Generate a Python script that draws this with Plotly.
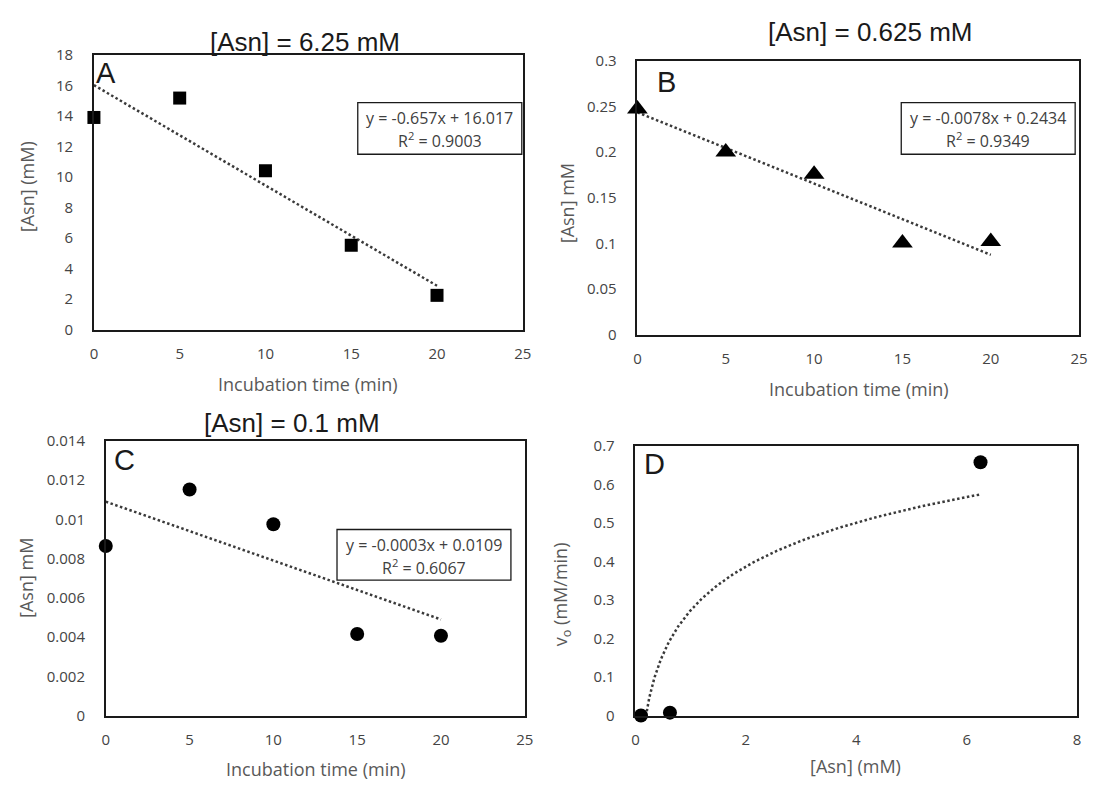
import numpy as np
import plotly.graph_objects as go

W, H = 1098, 788

# ---- data -----------------------------------------------------------------
time_min = [0, 5, 10, 15, 20]

asn_625 = [13.9, 15.17, 10.41, 5.53, 2.25]          # [Asn]0 = 6.25 mM
asn_0625 = [0.247, 0.200, 0.1756, 0.1004, 0.102]    # [Asn]0 = 0.625 mM
asn_01 = [0.00864, 0.01152, 0.00975, 0.00416, 0.00407]  # [Asn]0 = 0.1 mM

# linear trendlines  y = m*x + b
fit_625 = (-0.657, 16.017)
fit_0625 = (-0.0078, 0.2434)
fit_01 = (-0.0003, 0.0109)
r2_625, r2_0625, r2_01 = "0.9003", "0.9349", "0.6067"

# initial velocity vs substrate
asn_conc = [0.1, 0.625, 6.25]
v0 = [0.0003, 0.0078, 0.657]

# tick labels
ticks_x_time = [0, 5, 10, 15, 20, 25]
ticks_y_a = [0, 2, 4, 6, 8, 10, 12, 14, 16, 18]
ticks_y_b = [0, 0.05, 0.1, 0.15, 0.2, 0.25, 0.3]
labels_y_b = ["0", "0.05", "0.1", "0.15", "0.2", "0.25", "0.3"]
ticks_y_c = [0, 0.002, 0.004, 0.006, 0.008, 0.01, 0.012, 0.014]
labels_y_c = ["0", "0.002", "0.004", "0.006", "0.008", "0.01", "0.012", "0.014"]
ticks_x_d = [0, 2, 4, 6, 8]
ticks_y_d = [0, 0.1, 0.2, 0.3, 0.4, 0.5, 0.6, 0.7]
labels_y_d = ["0", "0.1", "0.2", "0.3", "0.4", "0.5", "0.6", "0.7"]

# ---- panel frames in pixels: (left, top, right, bottom) ----------------------
frames = {
    "A": (91, 45, 525, 327),
    "B": (641, 51, 1088, 332),
    "C": (103, 441, 527, 723),
    "D": (639, 446, 1086, 723),
}


def px(x):
    return x / W


def py(y):
    return 1 - y / H


TICK_FONT = dict(family="Open Sans", size=15, color="#444444")
TITLE_FONT = dict(family="Open Sans", size=18, color="#595959")
DOT = dict(color="#3a3a3a", width=2.5, dash="2.5px,2.5px")

fig = go.Figure()

panels = [
    ("A", "x", "y", asn_625, fit_625, "square", 13),
    ("B", "x2", "y2", asn_0625, fit_0625, "triangle-up", 18),
    ("C", "x3", "y3", asn_01, fit_01, "circle", 14),
]
for name, xr, yr, vals, (m, b), sym, size in panels:
    x_line = [time_min[0], time_min[-1]]
    fig.add_trace(go.Scatter(x=x_line, y=[m * x + b for x in x_line], mode="lines",
                             line=DOT, xaxis=xr, yaxis=yr, showlegend=False,
                             hoverinfo="skip"))
    fig.add_trace(go.Scatter(x=time_min, y=vals, mode="markers",
                             marker=dict(symbol=sym, size=size, color="black"),
                             xaxis=xr, yaxis=yr, showlegend=False, cliponaxis=False))

# logarithmic trendline through v0 vs [Asn]
a_log, b_log = np.polyfit(np.log(asn_conc), v0, 1)
s_curve = np.geomspace(asn_conc[0], asn_conc[-1], 200)
fig.add_trace(go.Scatter(x=s_curve, y=a_log * np.log(s_curve) + b_log, mode="lines",
                         line=DOT, xaxis="x4", yaxis="y4", showlegend=False,
                         hoverinfo="skip"))
fig.add_trace(go.Scatter(x=asn_conc, y=v0, mode="markers",
                         marker=dict(symbol="circle", size=14, color="black"),
                         xaxis="x4", yaxis="y4", showlegend=False, cliponaxis=False))


def axis(frame, horizontal, anchor, rng, tickvals, ticktext=None):
    l, t, r, bt = frames[frame]
    dom = [px(l), px(r)] if horizontal else [py(bt), py(t)]
    d = dict(domain=dom, anchor=anchor, range=rng, tickvals=tickvals,
             showgrid=False, zeroline=False, showline=True, mirror=True,
             linecolor="#1a1a1a", linewidth=1.5, ticks="", tickfont=TICK_FONT,
             ticklabelstandoff=10 if horizontal else 16, fixedrange=True)
    if ticktext is not None:
        d["ticktext"] = ticktext
    return d


fig.update_layout(
    width=W, height=H, margin=dict(l=0, r=0, t=0, b=0),
    paper_bgcolor="white", plot_bgcolor="white",
    xaxis=axis("A", True, "y", [0, 25], ticks_x_time),
    yaxis=axis("A", False, "x", [0, 18], ticks_y_a),
    xaxis2=axis("B", True, "y2", [0, 25], ticks_x_time),
    yaxis2=axis("B", False, "x2", [0, 0.3], ticks_y_b, labels_y_b),
    xaxis3=axis("C", True, "y3", [0, 25], ticks_x_time),
    yaxis3=axis("C", False, "x3", [0, 0.014], ticks_y_c, labels_y_c),
    xaxis4=axis("D", True, "y4", [0, 8], ticks_x_d),
    yaxis4=axis("D", False, "x4", [0, 0.7], ticks_y_d, labels_y_d),
)

ann = []


def text(x, y, s, font, angle=0):
    ann.append(dict(x=px(x), y=py(y), xref="paper", yref="paper", text=s,
                    showarrow=False, font=font, textangle=angle,
                    xanchor="center", yanchor="middle"))


HEAD = dict(family="Liberation Sans", size=26, color="#1a1a1a")
LETTER = dict(family="Liberation Sans", size=29, color="#1a1a1a")

# panel headings
text(305, 32, "[Asn] = 6.25 mM", HEAD)
text(876, 22, "[Asn] = 0.625 mM", HEAD)
text(291, 423, "[Asn] = 0.1 mM", HEAD)

# panel letters
text(103, 64, "A", LETTER)
text(670, 73, "B", LETTER)
text(122, 461, "C", LETTER)
text(658, 465, "D", LETTER)

# axis titles
text(308, 383, "Incubation time (min)", TITLE_FONT)
text(865, 388, "Incubation time (min)", TITLE_FONT)
text(316, 778, "Incubation time (min)", TITLE_FONT)
text(862, 775, "[Asn] (mM)", TITLE_FONT)
text(24, 180, "[Asn] (mM)", TITLE_FONT, -90)
text(570, 197, "[Asn] mM", TITLE_FONT, -90)
text(23, 582, "[Asn] mM", TITLE_FONT, -90)
text(565, 598, "v<sub>o</sub> (mM/min)", TITLE_FONT, -90)

# trendline equation boxes
EQ = dict(family="Open Sans", size=16, color="#404040")
boxes = [
    ((358, 94, 524, 147), fit_625, r2_625, ("{:.3f}", "{:.3f}")),
    ((908, 94, 1084, 147), fit_0625, r2_0625, ("{:.4f}", "{:.4f}")),
    ((337, 532, 513, 584), fit_01, r2_01, ("{:.4f}", "{:.4f}")),
]
shapes = []
for (l, t, r, bt), (m, b), r2, (fm, fb) in boxes:
    shapes.append(dict(type="rect", xref="paper", yref="paper",
                       x0=px(l), x1=px(r), y0=py(bt), y1=py(t),
                       line=dict(color="#1a1a1a", width=1.3), fillcolor="white",
                       layer="above"))
    cx = (l + r) / 2
    text(cx, t + 16, "y = " + fm.format(m) + "x + " + fb.format(b), EQ)
    text(cx, t + 38, "R<sup>2</sup> = " + r2, EQ)

fig.update_layout(annotations=ann, shapes=shapes)
fig.write_html("out.html")
